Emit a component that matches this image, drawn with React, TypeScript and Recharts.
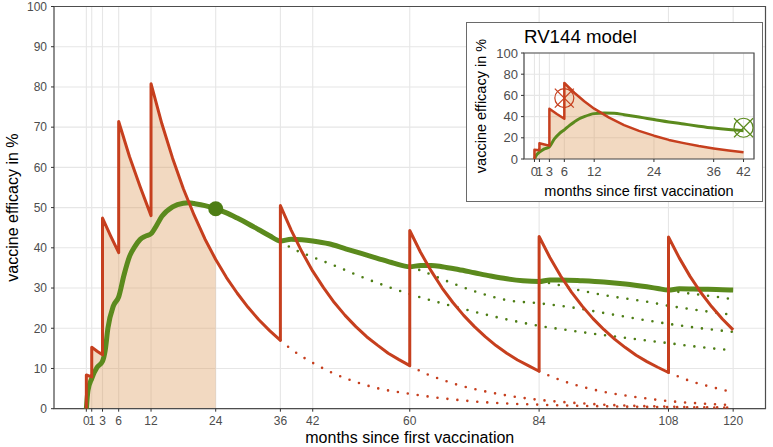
import React from "react";
import {
  Area,
  CartesianGrid,
  ComposedChart,
  Line,
  ReferenceArea,
  Scatter,
  XAxis,
  YAxis
} from "recharts";

const font = '"Liberation Sans", Arial, sans-serif';
const RED = "#c63f1e";
const GREEN = "#5b8a1d";
const GREEN_DOT = "#4d7d14";
const FILL = "#dc9c5c";
const GRID = "#e6e6e6";
const BORDER = "#4d4d4d";

const mainTicks = [0, 1, 3, 6, 12, 24, 36, 42, 60, 84, 108, 120];
const mainYTicks = [0, 10, 20, 30, 40, 50, 60, 70, 80, 90, 100];

// efficacy with boosts (red)
const redMonths = [
  0, 0, 1, 1, 2, 3, 3, 4.5, 6, 6, 8, 10, 12, 12, 14, 16, 18, 20, 22, 24, 26, 28, 30, 32, 34, 36,
  36, 38, 40, 42, 44, 46, 48, 50, 52, 54, 56, 58, 60, 60, 62, 64, 66, 68, 70, 72, 74, 76, 78, 80,
  82, 84, 84, 86, 88, 90, 92, 94, 96, 98, 100, 102, 104, 106, 108, 108, 110, 112, 114, 116, 118, 120
];
const redValues = [
  0, 8.4, 7.9, 15.3, 14.3, 13.4, 47.4, 43, 38.8, 71.4, 62.7, 55.1, 48, 80.8, 70.9, 62.3, 54.7, 48.1,
  42.2, 37.1, 32.6, 28.7, 25.2, 22.1, 19.4, 17.0, 50.5, 44.4, 39.0, 34.2, 30.1, 26.4, 23.2, 20.4,
  17.9, 15.8, 13.8, 12.2, 10.7, 44.3, 38.9, 34.2, 30.0, 26.4, 23.2, 20.4, 17.9, 15.7, 13.8, 12.1,
  10.7, 9.3, 42.8, 37.6, 33.0, 29.0, 25.5, 22.4, 19.7, 17.3, 15.2, 13.3, 11.7, 10.3, 9.0, 42.7,
  37.5, 32.9, 28.9, 25.4, 22.3, 19.6
];

// cumulative efficacy (green)
const greenMonths = [
  0, 0.3, 1, 2, 3, 3.5, 4, 5, 6, 7, 8, 9, 10, 11, 12, 13, 14, 16, 18, 19, 20, 22, 24, 26, 28, 30,
  32, 34, 36, 38, 40, 42, 45, 48, 51, 54, 57, 60, 62, 64, 66, 69, 72, 75, 78, 81, 84, 86, 88, 92,
  96, 100, 104, 106, 108, 110, 114, 118, 120
];
const greenValues = [
  0, 4.5, 7.5, 10.3, 11.8, 14.5, 20, 25.5, 27.8, 33.3, 37.8, 40.3, 42.1, 42.9, 43.5, 45.5, 47.8,
  50.2, 51.1, 51.2, 51, 50.5, 49.7, 48.7, 47.4, 46, 44.5, 43, 41.7, 42.1, 42.0, 41.7, 41, 39.8, 38.6,
  37.4, 36.2, 35.3, 35.6, 35.6, 35.3, 34.6, 33.8, 33, 32.3, 31.8, 31.6, 32, 32, 31.8, 31.5, 31,
  30.3, 29.9, 29.5, 29.8, 29.7, 29.6, 29.5
];

// no further boost (dotted)
const redNoBoost36M = [36, 38, 42, 48, 54, 60, 66, 72, 78, 84, 96, 108, 120];
const redNoBoost36V = [17, 14.8, 11.4, 7.6, 5.1, 3.7, 2.6, 1.8, 1.3, 1.0, 0.6, 0.4, 0.3];
const redNoBoost60M = [60, 63, 66, 69, 72, 78, 84, 90, 96, 108, 120];
const redNoBoost60V = [10.7, 8.7, 7.2, 5.9, 4.9, 3.3, 2.2, 1.5, 1.0, 0.5, 0.25];
const redNoBoost84M = [84, 87, 90, 93, 96, 102, 108, 114, 120];
const redNoBoost84V = [9.3, 7.6, 6.2, 5.1, 4.2, 2.9, 1.9, 1.3, 0.9];
const redNoBoost108M = [108, 110, 112, 114, 116, 118, 120];
const redNoBoost108V = [9.0, 7.9, 6.9, 6.1, 5.4, 4.7, 4.1];

const greenNoBoost36M = [36, 38, 42, 46, 51, 56, 60, 66, 72, 78, 84, 90, 96, 102, 108, 114, 120];
const greenNoBoost36V = [41.7, 40.0, 37.7, 35.6, 32.8, 30.3, 28.5, 26.2, 24.1, 22.2, 20.6, 19.4, 18.3, 17.3, 16.3, 15.3, 14.5];
const greenNoBoost60M = [60, 62, 66, 72, 78, 84, 90, 96, 102, 108, 114, 120];
const greenNoBoost60V = [35.3, 34.4, 32.2, 29.2, 27.0, 26.2, 25.2, 23.8, 22.4, 21.1, 20.0, 19.1];
const greenNoBoost84M = [84, 86, 92, 98, 104, 108, 114, 120];
const greenNoBoost84V = [31.6, 31.2, 29.3, 27.8, 26.6, 25.6, 24.4, 23.3];
const greenNoBoost108M = [108, 111, 114, 117, 120];
const greenNoBoost108V = [29.5, 28.8, 28.3, 27.8, 27.2];

const highlightMonth = [24];
const highlightValue = [49.7];

// inset: RV144 model
const insetTicks = [0, 1, 3, 6, 12, 24, 36, 42];
const insetYTicks = [0, 20, 40, 60, 80, 100];
const insetRedMonths = [0, 0, 1, 1, 2, 3, 3, 4.5, 6, 6, 8, 10, 12, 15, 18, 21, 24, 27, 30, 33, 36, 39, 42];
const insetRedValues = [0, 8.8, 8.3, 14.8, 13.7, 12.6, 47.5, 42.5, 38, 71.7, 62.5, 54.5, 47.5, 39, 32, 26.5, 22, 18, 15, 12.2, 10, 8, 6.3];
const insetGreenMonths = [0, 0.3, 1, 2, 3, 4, 5, 6, 7, 8, 9, 10, 12, 14, 16, 18, 20, 22, 24, 27, 30, 33, 36, 39, 42];
const insetGreenValues = [0, 3, 6.5, 9.5, 11.5, 19, 24, 27.5, 31.5, 35, 38, 40, 42.8, 43.4, 43.2, 41.8, 40.3, 38.8, 37.3, 35, 33, 31, 29.2, 27.8, 26.7];
const observedRedMonth = [6];
const observedRedValue = [57.5];
const observedGreenMonth = [42];
const observedGreenValue = [29.5];

const zip = (ms: number[], vs: number[]) => ms.map((m, i) => ({ m, v: vs[i] }));

const red = zip(redMonths, redValues);
const redFill = red.filter((p) => p.m <= 24);
const green = zip(greenMonths, greenValues);
const redDotted = [
  zip(redNoBoost36M, redNoBoost36V),
  zip(redNoBoost60M, redNoBoost60V),
  zip(redNoBoost84M, redNoBoost84V),
  zip(redNoBoost108M, redNoBoost108V)
];
const greenDotted = [
  zip(greenNoBoost36M, greenNoBoost36V),
  zip(greenNoBoost60M, greenNoBoost60V),
  zip(greenNoBoost84M, greenNoBoost84V),
  zip(greenNoBoost108M, greenNoBoost108V)
];
const highlight = zip(highlightMonth, highlightValue);

const insetRed = zip(insetRedMonths, insetRedValues);
const insetGreen = zip(insetGreenMonths, insetGreenValues);
const obsRed = zip(observedRedMonth, observedRedValue);
const obsGreen = zip(observedGreenMonth, observedGreenValue);

const tickStyle = { fontSize: 12, fill: "#4d4d4d", fontFamily: font };
const insetTickStyle = { fontSize: 13, fill: "#4d4d4d", fontFamily: font };

function CircleCross(color: string) {
  return (props: any) => {
    const { cx, cy } = props;
    const d = 9.5;
    return (
      <g stroke={color} strokeWidth={1.2} fill="none">
        <circle cx={cx} cy={cy} r={9.5} />
        <line x1={cx - d} y1={cy - d} x2={cx + d} y2={cy + d} />
        <line x1={cx - d} y1={cy + d} x2={cx + d} y2={cy - d} />
      </g>
    );
  };
}

function BigDot(props: any) {
  const { cx, cy } = props;
  return <circle cx={cx} cy={cy} r={7.5} fill={GREEN_DOT} />;
}

function Inset() {
  return (
    <div
      style={{
        position: "absolute",
        left: 466,
        top: 22,
        width: 297,
        height: 180,
        background: "#fff",
        boxShadow: "inset 0 0 0 1px #6a6a6a"
      }}
    >
      <div
        style={{
          position: "absolute",
          left: 58,
          top: 5.5,
          fontSize: 18.7,
          lineHeight: 1,
          fontFamily: font,
          color: "#000"
        }}
      >
        RV144 model
      </div>
      <ComposedChart
        width={297}
        height={180}
        margin={{ top: 31, right: 9, bottom: 0, left: 0 }}
        style={{ position: "absolute", left: 0, top: 0 }}
      >
        <CartesianGrid stroke={GRID} strokeWidth={1.1} />
        <XAxis
          type="number"
          dataKey="m"
          domain={[-2.1, 44.1]}
          ticks={insetTicks}
          interval={0}
          allowDataOverflow
          height={43}
          tickSize={3}
          tickMargin={5}
          axisLine={false}
          tickLine={{ stroke: "#333" }}
          tick={insetTickStyle}
          label={{
            value: "months since first vaccination",
            position: "insideBottom",
            offset: 6,
            style: { fontSize: 14.5, fill: "#000", fontFamily: font }
          }}
        />
        <YAxis
          type="number"
          domain={[0, 100]}
          ticks={insetYTicks}
          interval={0}
          allowDataOverflow
          width={58}
          tickSize={3}
          tickMargin={3}
          axisLine={false}
          tickLine={{ stroke: "#333" }}
          tick={insetTickStyle}
          label={{
            value: "vaccine efficacy in %",
            angle: -90,
            position: "insideLeft",
            offset: 15,
            style: { fontSize: 14.5, fill: "#000", textAnchor: "middle", fontFamily: font }
          }}
        />
        <Area
          data={insetRed}
          dataKey="v"
          type="linear"
          stroke="none"
          fill={FILL}
          fillOpacity={0.38}
          baseValue={0}
          isAnimationActive={false}
          dot={false}
          activeDot={false}
        />
        <Line
          data={insetGreen}
          dataKey="v"
          type="monotone"
          stroke={GREEN}
          strokeWidth={3}
          dot={false}
          activeDot={false}
          isAnimationActive={false}
        />
        <Line
          data={insetRed}
          dataKey="v"
          type="linear"
          stroke={RED}
          strokeWidth={2.5}
          strokeLinejoin="round"
          dot={false}
          activeDot={false}
          isAnimationActive={false}
        />
        <Scatter data={obsRed} dataKey="v" shape={CircleCross(RED)} isAnimationActive={false} />
        <Scatter data={obsGreen} dataKey="v" shape={CircleCross(GREEN)} isAnimationActive={false} />
        <ReferenceArea
          x1={-2.1}
          x2={44.1}
          y1={0}
          y2={100}
          fill="none"
          stroke={BORDER}
          strokeWidth={1.2}
          strokeOpacity={1}
          ifOverflow="visible"
        />
      </ComposedChart>
    </div>
  );
}

export default function App() {
  return (
    <div
      style={{
        position: "absolute",
        left: 0,
        top: 0,
        width: 773,
        height: 447,
        background: "#fff",
        fontFamily: font
      }}
    >
      <ComposedChart
        width={773}
        height={447}
        margin={{ top: 6.5, right: 7.5, bottom: 0, left: 0 }}
      >
        <CartesianGrid stroke={GRID} strokeWidth={1.1} />
        <XAxis
          type="number"
          dataKey="m"
          domain={[-6, 126]}
          ticks={mainTicks}
          interval={0}
          allowDataOverflow
          height={38.3}
          tickSize={3}
          tickMargin={5}
          axisLine={false}
          tickLine={{ stroke: "#333" }}
          tick={tickStyle}
          label={{
            value: "months since first vaccination",
            position: "insideBottom",
            offset: 4,
            style: { fontSize: 16, fill: "#000", fontFamily: font }
          }}
        />
        <YAxis
          type="number"
          domain={[0, 100]}
          ticks={mainYTicks}
          interval={0}
          allowDataOverflow
          width={54}
          tickSize={3}
          tickMargin={4}
          axisLine={false}
          tickLine={{ stroke: "#333" }}
          tick={tickStyle}
          label={{
            value: "vaccine efficacy in %",
            angle: -90,
            position: "insideLeft",
            offset: 12,
            style: { fontSize: 16, fill: "#000", textAnchor: "middle", fontFamily: font }
          }}
        />
        <Area
          data={redFill}
          dataKey="v"
          type="linear"
          stroke="none"
          fill={FILL}
          fillOpacity={0.38}
          baseValue={0}
          isAnimationActive={false}
          dot={false}
          activeDot={false}
        />
        {greenDotted.map((d, i) => (
          <Line
            key={"gd" + i}
            data={d}
            dataKey="v"
            type="monotone"
            stroke={GREEN_DOT}
            strokeWidth={2.6}
            strokeDasharray="0 10"
            strokeLinecap="round"
            dot={false}
            activeDot={false}
            isAnimationActive={false}
          />
        ))}
        {redDotted.map((d, i) => (
          <Line
            key={"rd" + i}
            data={d}
            dataKey="v"
            type="monotone"
            stroke={RED}
            strokeWidth={2.6}
            strokeDasharray="0 10"
            strokeLinecap="round"
            dot={false}
            activeDot={false}
            isAnimationActive={false}
          />
        ))}
        <Line
          data={green}
          dataKey="v"
          type="monotone"
          stroke={GREEN}
          strokeWidth={5}
          dot={false}
          activeDot={false}
          isAnimationActive={false}
        />
        <Line
          data={red}
          dataKey="v"
          type="linear"
          stroke={RED}
          strokeWidth={3}
          strokeLinejoin="round"
          dot={false}
          activeDot={false}
          isAnimationActive={false}
        />
        <Scatter data={highlight} dataKey="v" shape={BigDot} isAnimationActive={false} />
        <ReferenceArea
          x1={-6}
          x2={126}
          y1={0}
          y2={100}
          fill="none"
          stroke={BORDER}
          strokeWidth={1.2}
          strokeOpacity={1}
          ifOverflow="visible"
        />
      </ComposedChart>
      <Inset />
    </div>
  );
}
